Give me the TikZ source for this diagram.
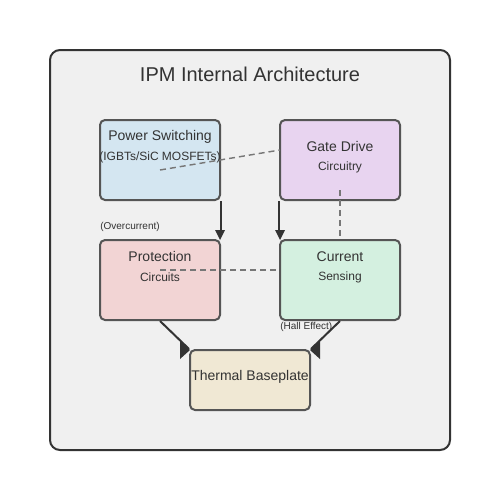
\documentclass[tikz,border=0pt]{standalone}
\usepackage{fontspec}
\setmainfont{Liberation Sans}
\begin{document}
\begin{tikzpicture}[x=0.75pt,y=-0.75pt,
  blk/.style={draw=boxline,line width=1.5pt,rounded corners=3.75pt,minimum width=90pt,minimum height=60pt,inner sep=0pt},
  ttl/.style={font=\fontsize{10.5pt}{12pt}\selectfont,text=txt},
  sub/.style={font=\fontsize{9pt}{11pt}\selectfont,text=txt},
  lbl/.style={font=\fontsize{7.5pt}{9pt}\selectfont,text=txt},
  solidarrow/.style={draw=arr,line width=1.5pt},
  dashln/.style={draw=dsh,line width=1.1pt,dash pattern=on 4.5pt off 3pt},
  tipfill/.style={fill=arr}
]
\definecolor{boxline}{HTML}{555555}
\definecolor{txt}{HTML}{333333}
\definecolor{arr}{HTML}{333333}
\definecolor{dsh}{HTML}{777777}
\definecolor{bg}{HTML}{F0F0F0}
\definecolor{cps}{HTML}{D4E6F1}
\definecolor{cgd}{HTML}{E8D4F0}
\definecolor{cpr}{HTML}{F2D4D4}
\definecolor{ccs}{HTML}{D4F0E0}
\definecolor{cth}{HTML}{F0E8D4}
\useasboundingbox[fill=white] (0,0) rectangle (500,500);
\draw[draw=txt,fill=bg,line width=1.5pt,rounded corners=7.5pt] (50,50) rectangle (450,450);
\node[font=\fontsize{15pt}{18pt}\selectfont,text=txt] (title) at (250,74) {IPM Internal Architecture};

\node[blk,fill=cps] (ps) at (160,160) {};
\node[blk,fill=cgd] (gd) at (340,160) {};
\node[blk,fill=cpr] (pr) at (160,280) {};
\node[blk,fill=ccs] (cs) at (340,280) {};
\node[blk,fill=cth,minimum height=45pt] (th) at (250,380) {};

% dashed links
\coordinate (d1a) at (160,170);
\coordinate (d1b) at (280,150);
\draw[dashln] (d1a) -- (d1b);
\coordinate (d2a) at (340,190);
\draw[dashln] (d2a) -- (cs.north);
\coordinate (d3a) at (160,270);
\draw[dashln] (d3a) -- (cs.west |- d3a);

% texts
\node[ttl] (pst) at (160,136.5) {Power Switching};
\node[sub] (pss) at (160,157) {(IGBTs/SiC MOSFETs)};
\node[ttl] (gdt) at (340,146.5) {Gate Drive};
\node[sub] (gds) at (340,167) {Circuitry};
\node[ttl] (prt) at (160,256.5) {Protection};
\node[sub] (prs) at (160,277) {Circuits};
\node[ttl] (cst) at (340,256.5) {Current};
\node[sub] (css) at (340,277) {Sensing};
\node[ttl] (tht) at (250,376.5) {Thermal Baseplate};

% solid arrows
\draw[solidarrow] (ps.south east) -- ++(0,32);
\fill[tipfill] (215,230) -- (225,230) -- (220,240) -- cycle;
\draw[solidarrow] (gd.south west) -- ++(0,32);
\fill[tipfill] (275,230) -- (285,230) -- (280,240) -- cycle;
\draw[solidarrow] (pr.south) -- (th.north west);
\fill[tipfill] (180,341) -- (180,359) -- (190,350) -- cycle;
\draw[solidarrow] (cs.south) -- (th.north east);
\fill[tipfill] (320,341) -- (320,359) -- (310,350) -- cycle;

\node[lbl,anchor=west,inner sep=0pt] (oc) at (100,227) {(Overcurrent)};
\node[lbl,anchor=west,inner sep=0pt] (he) at (280,327) {(Hall Effect)};
\end{tikzpicture}
\end{document}
